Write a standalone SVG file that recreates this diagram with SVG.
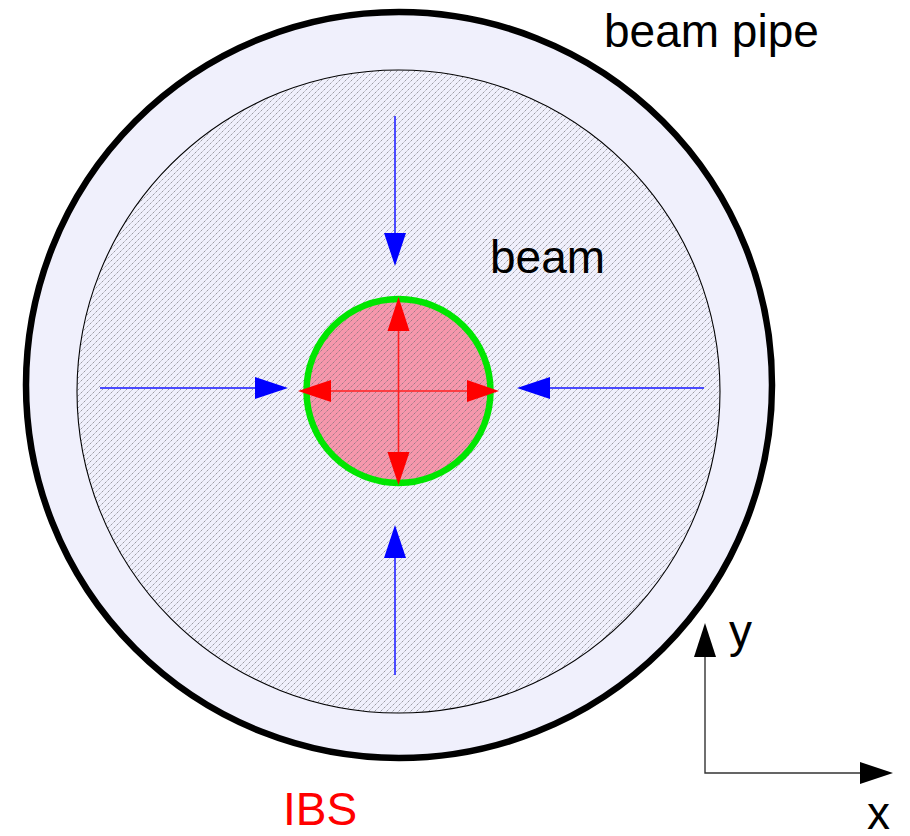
<svg xmlns="http://www.w3.org/2000/svg" width="910" height="836" viewBox="0 0 910 836">
  <defs>
    <pattern id="hatch" patternUnits="userSpaceOnUse" width="6" height="6">
      <path d="M0,6 L6,0 M-1,1 L1,-1 M5,7 L7,5" stroke="#6a6a70" stroke-width="1" stroke-dasharray="1.4,0.7" opacity="0.65"/>
    </pattern>
    <clipPath id="beamClip">
      <circle cx="398.5" cy="391.5" r="321.5"/>
    </clipPath>
  </defs>
  <style>
    .lbl { font-family: "Liberation Sans", Arial, sans-serif; font-size: 46px; fill: #000; }
    .blue { stroke: #4a4aff; stroke-width: 2; fill: none; }
    .red { stroke: #ff2020; stroke-width: 1.6; fill: none; }
    .axis { stroke: #333; stroke-width: 1.4; fill: none; }
    .bhead { fill: #0000ff; }
    .rhead { fill: #ff0000; }
    .khead { fill: #000; }
  </style>
  <rect width="910" height="836" fill="#fff"/>

  <g id="beam-pipe">
    <circle cx="399" cy="385" r="373" fill="#f0f0fc" stroke="#000" stroke-width="6.5"/>
  </g>

  <g id="beam">
    <circle cx="398.5" cy="391.5" r="321.5" fill="#f0f0fc" stroke="none"/>
  </g>

  <g id="ibs-core">
    <circle cx="398.5" cy="391" r="92" fill="#f697ac"/>
  </g>

  <g id="hatching">
    <rect x="70" y="60" width="660" height="660" fill="url(#hatch)" clip-path="url(#beamClip)"/>
    <circle cx="398.5" cy="391.5" r="321.5" fill="none" stroke="#000" stroke-width="1.1"/>
  </g>

  <g id="ibs-outline">
    <circle cx="398.5" cy="391" r="92" fill="none" stroke="#00e600" stroke-width="6.5"/>
  </g>

  <g id="connectors">
    <!-- blue compression arrows -->
    <line class="blue" x1="100" y1="388" x2="256" y2="388"/>
    <polygon class="bhead" points="288,388 255,377 255,399"/>
    <line class="blue" x1="704" y1="388" x2="550" y2="388"/>
    <polygon class="bhead" points="517,388 550,377 550,399"/>
    <line class="blue" x1="395" y1="116" x2="395" y2="234"/>
    <polygon class="bhead" points="395,266 384,233 406,233"/>
    <line class="blue" x1="395" y1="675" x2="395" y2="557"/>
    <polygon class="bhead" points="395,525 384,558 406,558"/>
    <!-- red IBS arrows -->
    <line class="red" x1="398.5" y1="330" x2="398.5" y2="453"/>
    <line class="red" x1="330" y1="391" x2="468" y2="391"/>
    <polygon class="rhead" points="398.5,297 387.5,331 409.5,331"/>
    <polygon class="rhead" points="398.5,485 387.5,452 409.5,452"/>
    <polygon class="rhead" points="298,391 331,380 331,402"/>
    <polygon class="rhead" points="499,391 467,380 467,402"/>
    <!-- axes -->
    <polyline class="axis" points="705,656 705,773 861,773"/>
    <polygon class="khead" points="705,623 694,657 716,657"/>
    <polygon class="khead" points="893,773 860,762 860,784"/>
  </g>

  <g id="labels">
    <text class="lbl" x="604" y="47">beam pipe</text>
    <text class="lbl" x="490" y="273">beam</text>
    <text class="lbl" x="283" y="825" style="fill:#ff0000">IBS</text>
    <text class="lbl" x="729" y="647">y</text>
    <text class="lbl" x="867" y="829">x</text>
  </g>
</svg>
